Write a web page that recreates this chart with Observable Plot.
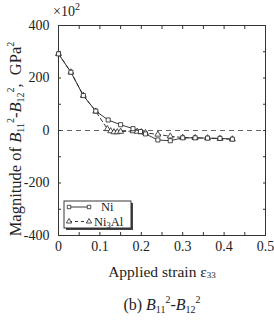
<!DOCTYPE html>
<html><head><meta charset="utf-8">
<script src="https://cdn.jsdelivr.net/npm/d3@7"></script>
<script src="https://cdn.jsdelivr.net/npm/@observablehq/plot@0.6"></script>
<style>body{margin:0;background:#fff} svg text{font-family:"Liberation Serif","Times New Roman","DejaVu Serif",serif !important}</style>
</head><body><div id="chart"></div>
<script>
const strainNi = [0, 0.03, 0.06, 0.09, 0.12, 0.15, 0.18, 0.198, 0.21, 0.24, 0.27, 0.30, 0.33, 0.36, 0.39, 0.42];
const valueNi = [292, 222, 133, 74, 40, 22, 7, -4, -13, -36, -39, -28, -28, -29, -30, -33];
const strainNi3Al = [0, 0.03, 0.06, 0.09, 0.118, 0.126, 0.134, 0.142, 0.15, 0.18, 0.19, 0.20, 0.21, 0.24, 0.27, 0.30, 0.33, 0.36, 0.39, 0.42];
const valueNi3Al = [292, 222, 133, 73, 6, -2, -6, -6, -4, -2, -4, -6, -9, -15, -22, -27, -28, -29, -31, -33];
const xTicks = [0, 0.1, 0.2, 0.3, 0.4, 0.5];
const xMinorTicks = [0, 0.05, 0.1, 0.15, 0.2, 0.25, 0.3, 0.35, 0.4, 0.45, 0.5];
const yTicks = [400, 200, 0, -200, -400];
const yMinorTicks = [400, 300, 200, 100, 0, -100, -200, -300, -400];
const seriesNames = ["Ni", "Ni3Al"];

const ni = strainNi.map((x, i) => ({x, y: valueNi[i]}));
const ni3al = strainNi3Al.map((x, i) => ({x, y: valueNi3Al[i]}));
const W = 274, H = 329;
const mL = 58, mR = 9, mT = 25, mB = 94;

const plot = Plot.plot({
  width: W, height: H,
  marginLeft: mL, marginRight: mR, marginTop: mT, marginBottom: mB,
  style: {fontSize: "14px", color: "#222", background: "#fff"},
  x: {domain: [0, 0.5]},
  y: {domain: [-400, 400]},
  marks: [
    Plot.ruleY([0], {stroke: "#666", strokeDasharray: "5,4", strokeWidth: 1}),
    Plot.frame({stroke: "#333"}),
    Plot.axisX({anchor: "bottom", ticks: xMinorTicks, tickSize: -3, tickFormat: () => "", label: null, stroke: "#333"}),
    Plot.axisX({anchor: "top", ticks: xMinorTicks, tickSize: -3, tickFormat: () => "", label: null, stroke: "#333"}),
    Plot.axisX({anchor: "bottom", ticks: xTicks, tickSize: 0, tickPadding: 6, tickFormat: d => d === 0 ? "0" : d3.format(".1f")(d), label: null, fill: "#222"}),
    Plot.axisY({anchor: "left", ticks: yMinorTicks, tickSize: -3, tickFormat: () => "", label: null, stroke: "#333"}),
    Plot.axisY({anchor: "right", ticks: yMinorTicks, tickSize: -3, tickFormat: () => "", label: null, stroke: "#333"}),
    Plot.axisY({anchor: "left", ticks: yTicks, tickSize: 0, tickPadding: 9, tickFormat: d => String(d), label: null, fill: "#222"}),
    Plot.line(ni3al, {x: "x", y: "y", stroke: "#222", strokeWidth: 0.9, strokeDasharray: "4,3"}),
    Plot.dot(ni3al, {x: "x", y: "y", symbol: "triangle", r: 2.2, stroke: "#222", strokeWidth: 0.8, fill: "white"}),
    Plot.line(ni, {x: "x", y: "y", stroke: "#222", strokeWidth: 0.9}),
    Plot.dot(ni, {x: "x", y: "y", symbol: "square", r: 2.3, stroke: "#222", strokeWidth: 0.8, fill: "white"})
  ]
});
document.getElementById("chart").appendChild(plot);

const svg = d3.select(plot);
const T = (sel) => sel.attr("fill", "#222").attr("text-anchor", "start");

// ×10^2 multiplier
const m = T(svg.append("text")).attr("x", 53).attr("y", 16).attr("font-size", 14);
m.append("tspan").text("\u00d710");
m.append("tspan").attr("font-size", 10).attr("dy", -6).text("2");

// y label
const yl = T(svg.append("text")).attr("transform", "translate(21,139) rotate(-90)")
  .attr("text-anchor", "middle").attr("font-size", 16.5);
yl.append("tspan").text("Magnitude of ");
yl.append("tspan").attr("font-style", "italic").text("B");
yl.append("tspan").attr("font-size", 10).attr("dy", 3).text("11");
yl.append("tspan").attr("font-size", 10).attr("dy", -10).text("2");
yl.append("tspan").attr("dy", 7).text("-");
yl.append("tspan").attr("font-style", "italic").text("B");
yl.append("tspan").attr("font-size", 10).attr("dy", 3).text("12");
yl.append("tspan").attr("font-size", 10).attr("dy", -10).text("2");
yl.append("tspan").attr("dy", 7).text(",  GPa");
yl.append("tspan").attr("font-size", 10).attr("dy", -7).text("2");

// x label
const xl = T(svg.append("text")).attr("x", 162).attr("y", 277).attr("text-anchor", "middle").attr("font-size", 15.5);
xl.append("tspan").text("Applied strain \u03b5");
xl.append("tspan").attr("font-size", 9).attr("dy", 1).text("33");

// caption
const cp = T(svg.append("text")).attr("x", 162).attr("y", 310).attr("text-anchor", "middle").attr("font-size", 16);
cp.append("tspan").text("(b) ");
cp.append("tspan").attr("font-style", "italic").text("B");
cp.append("tspan").attr("font-size", 10).attr("dy", 3).text("11");
cp.append("tspan").attr("font-size", 10).attr("dy", -10).text("2");
cp.append("tspan").attr("dy", 7).text("-");
cp.append("tspan").attr("font-style", "italic").text("B");
cp.append("tspan").attr("font-size", 10).attr("dy", 3).text("12");
cp.append("tspan").attr("font-size", 10).attr("dy", -10).text("2");

// legend
const lg = svg.append("g");
lg.append("rect").attr("x", 66).attr("y", 203).attr("width", 67).attr("height", 27).attr("fill", "#444");
lg.append("rect").attr("x", 64).attr("y", 201).attr("width", 67).attr("height", 27).attr("fill", "white").attr("stroke", "#222").attr("stroke-width", 0.9);
const rows = [{y: 207, dash: null, sym: d3.symbolSquare}, {y: 221.5, dash: "3,3", sym: d3.symbolTriangle}];
rows.forEach((r, i) => {
  lg.append("line").attr("x1", 69).attr("x2", 89).attr("y1", r.y).attr("y2", r.y)
    .attr("stroke", "#222").attr("stroke-width", 0.9).attr("stroke-dasharray", r.dash);
  [69, 89].forEach(cx => lg.append("path").attr("d", d3.symbol(r.sym, 12)()).attr("transform", `translate(${cx},${r.y})`)
    .attr("fill", "white").attr("stroke", "#222").attr("stroke-width", 0.8));
  const t = T(lg.append("text")).attr("x", 94).attr("y", r.y + 4).attr("font-size", 12.5);
  if (i === 0) { t.attr("x", 101).text("Ni"); }
  else { t.append("tspan").text("Ni"); t.append("tspan").attr("font-size", 8.5).attr("dy", 2).text("3"); t.append("tspan").attr("dy", -2).text("Al"); }
});
</script></body></html>
